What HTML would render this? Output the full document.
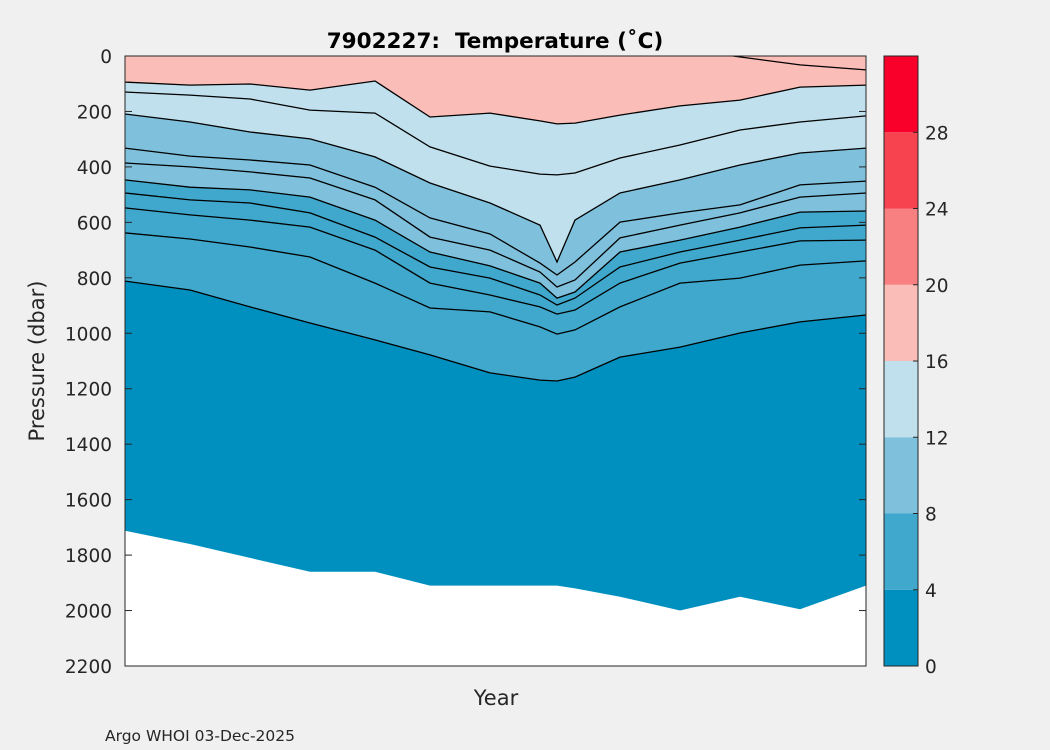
<!DOCTYPE html>
<html><head><meta charset="utf-8"><style>
body{margin:0;background:#f0f0f0;font-family:"Liberation Sans","DejaVu Sans",sans-serif}
svg{display:block}
text{font-family:"DejaVu Sans","Liberation Sans",sans-serif;fill:#262626}
</style></head><body>
<svg id="chart" width="1050" height="750" viewBox="0 0 1050 750" xmlns="http://www.w3.org/2000/svg">
<rect width="1050" height="750" fill="#f0f0f0"/>
<g id="plot"></g>
<text x="495" y="48" font-size="21.5" font-weight="bold" text-anchor="middle" fill="#000" style="fill:#000">7902227:&#160; Temperature (˚C)</text>
<text x="496" y="705" font-size="21" text-anchor="middle">Year</text>
<text transform="translate(44,361) rotate(-90)" font-size="21" text-anchor="middle">Pressure (dbar)</text>
<text x="105" y="741" font-size="15.5">Argo WHOI 03-Dec-2025</text>
<g id="yaxis"></g>
<g id="cbar"></g>
</svg>
<script>
// time (days from first profile)
const times = [0, 65, 125, 185, 250, 305, 365, 415, 432, 450, 495, 555, 615, 675, 741];
const levels = [16, 14, 12, 11, 10, 8, 7, 6, 5, 4];
const cA = [94,105,101,123,90,220,206,234,245,242,213,180,159,112,105];
const cB = [130,141,155,195,206,328,397,426,429,422,368,321,267,238,216];
const cD = [209,238,274,299,364,458,530,610,743,592,494,447,393,350,332];
const cE = [332,361,375,393,473,584,642,747,790,743,599,566,537,465,451];
const cF = [386,400,418,440,519,653,700,779,833,808,656,610,566,509,494];
const cG = [447,473,483,509,592,707,757,819,873,851,707,664,617,563,559];
const cH = [494,519,530,566,653,761,801,862,898,873,761,707,664,620,610];
const cI = [548,573,592,617,700,819,862,905,931,916,819,747,707,667,664];
const cJ = [638,660,689,725,819,909,923,977,1003,988,905,819,801,754,739];
const cK = [812,844,905,963,1024,1078,1143,1169,1172,1158,1086,1050,999,959,934];
const bottomP = [1712,1760,1810,1860,1860,1910,1910,1910,1910,1920,1950,2000,1950,1995,1910];
const cCtimes = [608, 675, 741];
const cC = [0, 32, 50];
const yTicks = [0,200,400,600,800,1000,1200,1400,1600,1800,2000,2200];
const cbTicks = [0,4,8,12,16,20,24,28];
const cbColors = ["#0090bf","#3fa8cc","#7fc1dc","#bfe0ec","#fbbdb8","#f98080","#f74250","#f9002a"];

const X0=125,X1=866,Y0=56,Y1=666,PMAX=2200,TMAX=741;
const xs=t=>X0+(t/TMAX)*(X1-X0);
const ys=p=>Y0+(p/PMAX)*(Y1-Y0);
const NS="http://www.w3.org/2000/svg";
const plot=document.getElementById('plot');
function mk(tag,attrs,parent){const e=document.createElementNS(NS,tag);for(const k in attrs)e.setAttribute(k,attrs[k]);parent.appendChild(e);return e;}
function linePts(arr,tm){return arr.map((p,i)=>xs((tm||times)[i]).toFixed(1)+","+ys(p).toFixed(1));}

let r=mk('rect',{x:X0,y:Y0,width:X1-X0,height:Y1-Y0,fill:'#0090bf'},plot);


const bands=[[cK,'#3fa8cc','band-4-8'],[cG,'#7fc1dc','band-8-12'],[cD,'#bfe0ec','band-12-16'],[cA,'#fbbdb8','band-16-20']];
bands.forEach(b=>{
  const pts=[xs(0)+","+ys(0)].concat(linePts(b[0])).concat([xs(TMAX)+","+ys(0)]);
  const e=mk('polygon',{points:pts.join(' '),fill:b[1]},plot);
  
  
});
const lines=[[cA,'contour-16'],[cB,'contour-14'],[cD,'contour-12'],[cE,'contour-11'],[cF,'contour-10'],[cG,'contour-8'],[cH,'contour-7'],[cI,'contour-6'],[cJ,'contour-5'],[cK,'contour-4']];
lines.forEach(l=>{
  const e=mk('polyline',{points:linePts(l[0]).join(' '),fill:'none',stroke:'#000','stroke-width':1.3},plot);
  
  
});
let c=mk('polyline',{points:linePts(cC,cCtimes).join(' '),fill:'none',stroke:'#000','stroke-width':1.3},plot);


const bpts=linePts(bottomP).concat([xs(TMAX)+","+ys(PMAX),xs(0)+","+ys(PMAX)]);
let w=mk('polygon',{points:bpts.join(' '),fill:'#fff'},plot);


let fr=mk('rect',{x:X0,y:Y0,width:X1-X0,height:Y1-Y0,fill:'none',stroke:'#262626','stroke-width':1},plot);



const ya=document.getElementById('yaxis');
yTicks.forEach(v=>{
  const y=ys(v);
  mk('line',{x1:X0,x2:X0+7,y1:y,y2:y,stroke:'#262626'},ya);
  mk('line',{x1:X1,x2:X1-7,y1:y,y2:y,stroke:'#262626'},ya);
  const t=mk('text',{x:X0-13,y:y+7,'font-size':18.5,'text-anchor':'end'},ya);
  t.textContent=v;
  
  
});

const cb=document.getElementById('cbar');
const CX0=884,CX1=918,cbY=v=>Y1-(v/32)*(Y1-Y0);
cbColors.forEach((col,i)=>{
  const e=mk('rect',{x:CX0,y:cbY((i+1)*4),width:CX1-CX0,height:cbY(i*4)-cbY((i+1)*4),fill:col},cb);
  
  
});
mk('rect',{x:CX0,y:Y0,width:CX1-CX0,height:Y1-Y0,fill:'none',stroke:'#262626'},cb);
cbTicks.forEach(v=>{
  const y=cbY(v);
  mk('line',{x1:CX1-5,x2:CX1,y1:y,y2:y,stroke:'#262626'},cb);
  const t=mk('text',{x:925,y:y+7,'font-size':18.5},cb);
  t.textContent=v;
  
  
});
</script>
</body></html>
